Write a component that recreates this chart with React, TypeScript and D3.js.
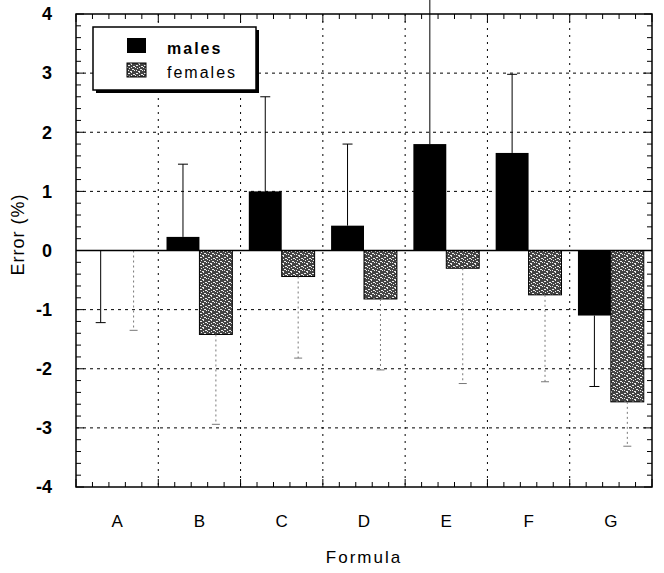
import * as d3 from "d3";
import React from "react";

const formulas = ["A", "B", "C", "D", "E", "F", "G"];
const malesMean = [0, 0.23, 1.0, 0.42, 1.8, 1.65, -1.1];
const malesSd = [1.22, 1.23, 1.6, 1.38, 2.5, 1.33, 1.2];
const femalesMean = [0, -1.42, -0.44, -0.82, -0.3, -0.75, -2.56];
const femalesSd = [1.35, 1.52, 1.38, 1.2, 1.95, 1.47, 0.75];
const yTicks = [-4, -3, -2, -1, 0, 1, 2, 3, 4];
const seriesNames = ["males", "females"];

const width = 664;
const height = 573;
const margin = { top: 14, right: 12, bottom: 86, left: 76 };
const font = "'Liberation Sans', Arial, sans-serif";

// speckle positions for the female texture (purely decorative)
const speckles = [
  [0, 1, 2, 1], [3, 0, 1, 1], [5, 2, 2, 1], [1, 4, 1, 1], [4, 5, 2, 1],
  [6, 6, 1, 1], [2, 7, 2, 1], [0, 6, 1, 1], [7, 3, 1, 1], [3, 3, 1, 1],
];

function App() {
  const innerRight = width - margin.right;
  const innerBottom = height - margin.bottom;

  const x = d3
    .scaleBand()
    .domain(formulas)
    .range([margin.left, innerRight])
    .paddingInner(0.2)
    .paddingOuter(0.1);

  const xSeries = d3
    .scaleBand()
    .domain(seriesNames)
    .range([0, x.bandwidth()])
    .padding(0);

  const y = d3
    .scaleLinear()
    .domain([-4, 4])
    .range([innerBottom, margin.top]);

  const step = x.step();
  const boundaries = d3.range(1, formulas.length).map((i) => margin.left + i * step);
  const minorY = d3.range(-4, 4.001, 0.2);
  const minorX = d3.range(0, formulas.length * 5 + 1).map((i) => margin.left + (i * step) / 5);

  const rows = formulas.map((f, i) => ({
    f,
    males: { v: malesMean[i], sd: malesSd[i] },
    females: { v: femalesMean[i], sd: femalesSd[i] },
  }));

  const errEnd = (v: number, sd: number) => (v > 0 ? v + sd : v - sd);

  return (
    <svg
      width={width}
      height={height}
      style={{ position: "absolute", left: 0, top: 0, background: "#fff" }}
    >
      <defs>
        <pattern id="speck" width={8} height={8} patternUnits="userSpaceOnUse">
          <rect width={8} height={8} fill="#444" />
          {speckles.map((s, i) => (
            <rect key={i} x={s[0]} y={s[1]} width={s[2]} height={s[3]} fill="#eee" />
          ))}
        </pattern>
      </defs>

      {/* grid */}
      <g stroke="#000" strokeWidth={1} strokeDasharray="3,4">
        {yTicks
          .filter((t) => t !== 0 && Math.abs(t) !== 4)
          .map((t) => (
            <line key={t} x1={margin.left} x2={innerRight} y1={y(t)} y2={y(t)} />
          ))}
        {boundaries.map((b, i) => (
          <line key={i} x1={b} x2={b} y1={margin.top} y2={innerBottom} strokeDasharray="2,5" />
        ))}
      </g>

      {/* bars */}
      {rows.map((r) => {
        const x0 = x(r.f) as number;
        return (
          <g key={r.f}>
            <rect
              x={x0 + (xSeries("males") as number)}
              width={xSeries.bandwidth()}
              y={y(Math.max(0, r.males.v))}
              height={Math.abs(y(r.males.v) - y(0))}
              fill="#000"
            />
            <rect
              x={x0 + (xSeries("females") as number)}
              width={xSeries.bandwidth()}
              y={y(Math.max(0, r.females.v))}
              height={Math.abs(y(r.females.v) - y(0))}
              fill="url(#speck)"
              stroke="#000"
              strokeWidth={1}
            />
          </g>
        );
      })}

      {/* error bars */}
      {rows.map((r) => {
        const x0 = x(r.f) as number;
        const mx = x0 + (xSeries("males") as number) + xSeries.bandwidth() / 2;
        const fx = x0 + (xSeries("females") as number) + xSeries.bandwidth() / 2;
        const mEnd = errEnd(r.males.v, r.males.sd);
        const fEnd = errEnd(r.females.v, r.females.sd);
        return (
          <g key={r.f}>
            <g stroke="#000" strokeWidth={1}>
              <line x1={mx} x2={mx} y1={y(r.males.v)} y2={y(mEnd)} />
              {mEnd <= 4 && <line x1={mx - 5} x2={mx + 5} y1={y(mEnd)} y2={y(mEnd)} />}
            </g>
            <g stroke="#777" strokeWidth={1}>
              <line x1={fx} x2={fx} y1={y(r.females.v)} y2={y(fEnd)} strokeDasharray="2,3" />
              <line x1={fx - 4} x2={fx + 4} y1={y(fEnd)} y2={y(fEnd)} />
            </g>
          </g>
        );
      })}

      {/* zero line */}
      <line x1={margin.left} x2={innerRight} y1={y(0)} y2={y(0)} stroke="#000" strokeWidth={1.5} />

      {/* ticks */}
      <g stroke="#000" strokeWidth={1}>
        {minorY.map((t, i) => {
          const major = i % 5 === 0;
          const len = major ? 8 : 5;
          return (
            <g key={i}>
              <line x1={margin.left} x2={margin.left + len} y1={y(t)} y2={y(t)} />
              <line x1={innerRight} x2={innerRight - len} y1={y(t)} y2={y(t)} />
            </g>
          );
        })}
        {minorX.map((mx, i) => {
          const len = i % 5 === 0 ? 8 : 5;
          return (
            <g key={i}>
              <line x1={mx} x2={mx} y1={innerBottom} y2={innerBottom - len} />
              <line x1={mx} x2={mx} y1={margin.top} y2={margin.top + len} />
            </g>
          );
        })}
      </g>

      {/* frame */}
      <rect
        x={margin.left}
        y={margin.top}
        width={innerRight - margin.left}
        height={innerBottom - margin.top}
        fill="none"
        stroke="#000"
        strokeWidth={1.5}
      />

      {/* y labels */}
      <g fontFamily={font} fontSize={18} fontWeight="bold" textAnchor="end">
        {yTicks.map((t) => (
          <text key={t} x={margin.left - 24} y={y(t)} dy="0.35em">
            {t}
          </text>
        ))}
      </g>
      <text
        transform={`translate(24,${(margin.top + innerBottom) / 2 - 16}) rotate(-90)`}
        textAnchor="middle"
        fontFamily={font}
        fontSize={18}
        letterSpacing={1}
      >
        Error (%)
      </text>

      {/* x labels */}
      <g fontFamily={font} fontSize={17} textAnchor="middle">
        {formulas.map((f) => (
          <text key={f} x={(x(f) as number) + x.bandwidth() / 2} y={innerBottom + 40}>
            {f}
          </text>
        ))}
      </g>
      <text
        x={(margin.left + innerRight) / 2}
        y={innerBottom + 76}
        textAnchor="middle"
        fontFamily={font}
        fontSize={17}
        letterSpacing={2}
      >
        Formula
      </text>

      {/* legend */}
      <g>
        <rect x={96} y={30} width={163} height={63} fill="#000" />
        <rect x={93} y={27} width={163} height={63} fill="#fff" stroke="#000" strokeWidth={1.5} />
        <rect x={127} y={38} width={19} height={15} fill="#000" />
        <rect x={127} y={63} width={19} height={14} fill="url(#speck)" stroke="#000" strokeWidth={1} />
        <text x={167} y={54} fontFamily={font} fontSize={16} fontWeight="bold" letterSpacing={2}>
          males
        </text>
        <text x={167} y={78} fontFamily={font} fontSize={16} letterSpacing={2}>
          females
        </text>
      </g>
    </svg>
  );
}

export default App;
